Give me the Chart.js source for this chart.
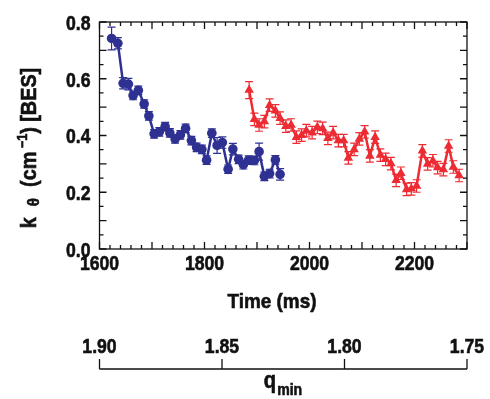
<!DOCTYPE html>
<html>
<head>
<meta charset="utf-8">
<script src="https://cdn.jsdelivr.net/npm/chart.js@4.4.1/dist/chart.umd.min.js"></script>
<style>
  html, body { margin: 0; padding: 0; background: #fff; }
  #wrap { width: 490px; height: 399px; }
</style>
</head>
<body>
<div id="wrap"><canvas id="kChart" width="490" height="399"></canvas></div>
<script>
// values
const blueTime = [1623, 1635, 1645, 1655, 1664, 1674, 1685, 1694, 1704, 1714, 1725, 1734, 1744, 1754, 1764, 1775, 1785,
    1795, 1804, 1814, 1824, 1834, 1845, 1854, 1865, 1874, 1884, 1895, 1904, 1914, 1924, 1935, 1944];
const blueK = [0.742, 0.725, 0.584, 0.581, 0.541, 0.559, 0.511, 0.469, 0.406, 0.413, 0.431, 0.409, 0.388, 0.402, 0.425, 0.382, 0.358,
    0.351, 0.313, 0.408, 0.365, 0.375, 0.281, 0.352, 0.316, 0.297, 0.313, 0.312, 0.343, 0.256, 0.266, 0.314, 0.263];
const blueErr = [0.04, 0.02, 0.02, 0.02, 0.015, 0.015, 0.015, 0.015, 0.015, 0.015, 0.015, 0.015, 0.015, 0.015, 0.015, 0.015, 0.015,
    0.015, 0.015, 0.015, 0.028, 0.02, 0.015, 0.02, 0.015, 0.015, 0.015, 0.015, 0.03, 0.015, 0.015, 0.015, 0.02];

const redTime = [1885, 1895, 1904, 1914, 1924, 1935, 1944, 1955, 1965, 1975, 1985, 1994, 2005, 2015, 2025, 2035, 2045, 2055, 2065, 2074,
    2085, 2095, 2105, 2115, 2125, 2135, 2145, 2155, 2165, 2174, 2185, 2194, 2204, 2215, 2225, 2235, 2244, 2255, 2265, 2274, 2285];
const redK = [0.560, 0.457, 0.437, 0.449, 0.507, 0.487, 0.461, 0.433, 0.437, 0.394, 0.401, 0.417, 0.410, 0.429, 0.425, 0.390, 0.410, 0.382, 0.382, 0.321,
    0.351, 0.388, 0.413, 0.328, 0.394, 0.331, 0.316, 0.301, 0.242, 0.267, 0.210, 0.212, 0.222, 0.346, 0.300, 0.311, 0.287, 0.280, 0.363, 0.289, 0.259];
const redErr = [0.03, 0.022, 0.022, 0.022, 0.022, 0.022, 0.022, 0.022, 0.022, 0.022, 0.022, 0.022, 0.022, 0.022, 0.022, 0.022, 0.022, 0.022, 0.022, 0.022,
    0.022, 0.022, 0.022, 0.022, 0.022, 0.022, 0.022, 0.022, 0.022, 0.022, 0.022, 0.022, 0.022, 0.022, 0.022, 0.022, 0.022, 0.022, 0.022, 0.022, 0.022];

const timeTicks = [1600, 1800, 2000, 2200];
const kTicks = [0.0, 0.2, 0.4, 0.6, 0.8];
const qTicks = [1.90, 1.85, 1.80, 1.75];

const BLUE = 'rgb(46, 49, 146)';
const RED = 'rgb(237, 43, 51)';
const FONT = "'Liberation Sans', Arial, sans-serif";
const SQUEEZE = 0.84;   // the figure uses a condensed bold face

function toPoints(xs, ys) {
    return xs.map((x, i) => ({ x: x, y: ys[i] }));
}

// draw heavy bold text squeezed horizontally
function squeezed(ctx, text, x, y, size, align, sx) {
    ctx.save();
    ctx.translate(x, y);
    ctx.scale(sx || SQUEEZE, 1);
    ctx.font = 'bold ' + size + 'px ' + FONT;
    ctx.textAlign = align;
    ctx.lineWidth = 0.6;
    ctx.strokeStyle = ctx.fillStyle;
    ctx.fillText(text, 0, 0);
    ctx.strokeText(text, 0, 0);
    ctx.restore();
}

// error bars, drawn under the markers
const errorBars = {
    id: 'errorBars',
    beforeDatasetsDraw(chart) {
        const ctx = chart.ctx;
        const xs = chart.scales.x, ys = chart.scales.y;
        const sets = [[blueTime, blueK, blueErr, BLUE], [redTime, redK, redErr, RED]];
        ctx.save();
        ctx.lineWidth = 1.2;
        sets.forEach(([t, k, e, col]) => {
            ctx.strokeStyle = col;
            t.forEach((tv, i) => {
                const px = xs.getPixelForValue(tv);
                const top = ys.getPixelForValue(k[i] + e[i]);
                const bot = ys.getPixelForValue(k[i] - e[i]);
                ctx.beginPath();
                ctx.moveTo(px, top); ctx.lineTo(px, bot);
                ctx.moveTo(px - 4, top); ctx.lineTo(px + 4, top);
                ctx.moveTo(px - 4, bot); ctx.lineTo(px + 4, bot);
                ctx.stroke();
            });
        });
        ctx.restore();
    }
};

// frame with inward ticks, labels, axis titles and the q_min axis
const decorations = {
    id: 'decorations',
    afterDraw(chart) {
        const ctx = chart.ctx;
        const a = chart.chartArea;
        const xs = chart.scales.x, ys = chart.scales.y, qs = chart.scales.q;
        ctx.save();
        ctx.strokeStyle = '#111';
        ctx.lineWidth = 1.3;
        ctx.strokeRect(a.left, a.top, a.right - a.left, a.bottom - a.top);

        ctx.beginPath();
        for (let t = 1600; t <= 2300; t += 20) {
            const px = xs.getPixelForValue(t);
            const len = (t % 100 === 0) ? 7 : 4;
            ctx.moveTo(px, a.bottom); ctx.lineTo(px, a.bottom - len);
            ctx.moveTo(px, a.top); ctx.lineTo(px, a.top + len);
        }
        for (let i = 0; i <= 16; i++) {
            const py = ys.getPixelForValue(i * 0.05);
            const len = (i % 2 === 0) ? 7 : 4;
            ctx.moveTo(a.left, py); ctx.lineTo(a.left + len, py);
            ctx.moveTo(a.right, py); ctx.lineTo(a.right - len, py);
        }
        ctx.stroke();

        ctx.fillStyle = '#111';
        ctx.textBaseline = 'middle';
        kTicks.forEach(v => squeezed(ctx, v.toFixed(1), a.left - 9, ys.getPixelForValue(v) + 2, 21, 'right'));
        timeTicks.forEach(v => squeezed(ctx, String(v), xs.getPixelForValue(v), 264, 21, 'center'));
        squeezed(ctx, 'Time (ms)', 272, 302, 21, 'center', 0.9);

        // q_min axis
        const axisY = 369;
        ctx.strokeStyle = '#111';
        ctx.lineWidth = 1.3;
        ctx.beginPath();
        ctx.moveTo(qs.getPixelForValue(1.90), axisY);
        ctx.lineTo(qs.getPixelForValue(1.75), axisY);
        qTicks.forEach(q => {
            const px = qs.getPixelForValue(q);
            ctx.moveTo(px, axisY); ctx.lineTo(px, axisY - 10);
        });
        ctx.stroke();
        qTicks.forEach(q => squeezed(ctx, q.toFixed(2), qs.getPixelForValue(q), 347, 21, 'center'));

        ctx.textBaseline = 'alphabetic';
        ctx.font = 'bold 23px ' + FONT;
        const qW = ctx.measureText('q').width * 0.88;
        ctx.font = 'bold 16px ' + FONT;
        const mW = ctx.measureText('min').width * 0.88;
        const qx = 283 - (qW + 1 + mW) / 2;
        squeezed(ctx, 'q', qx, 388, 23, 'left', 0.88);
        squeezed(ctx, 'min', qx + qW + 1, 395, 16, 'left', 0.88);

        // rotated y title: k_theta (cm^-1) [BES]
        const parts = [
            ['k', 22, 0], ['  ', 22, 0], ['θ', 17, 3], ['  (cm', 22, 0], [' \u22121', 14, -9], [') [BES]', 22, 0]
        ];
        let total = 0;
        parts.forEach(p => { ctx.font = 'bold ' + p[1] + 'px ' + FONT; total += ctx.measureText(p[0]).width; });
        ctx.translate(36, 148);
        ctx.rotate(-Math.PI / 2);
        ctx.scale(0.9, 1);
        let x = -total / 2;
        ctx.textAlign = 'left';
        ctx.lineWidth = 0.6;
        ctx.strokeStyle = '#111';
        parts.forEach(p => {
            ctx.font = 'bold ' + p[1] + 'px ' + FONT;
            ctx.fillText(p[0], x, p[2]);
            ctx.strokeText(p[0], x, p[2]);
            x += ctx.measureText(p[0]).width;
        });
        ctx.restore();
    }
};

document.addEventListener('DOMContentLoaded', () => {
    const ctx = document.getElementById('kChart').getContext('2d');
    new Chart(ctx, {
        type: 'line',
        data: {
            datasets: [{
                label: 'BES early',
                data: toPoints(blueTime, blueK),
                borderColor: BLUE,
                backgroundColor: BLUE,
                borderWidth: 2.5,
                pointStyle: 'circle',
                pointRadius: 4.8,
                pointBorderWidth: 0,
                tension: 0
            }, {
                label: 'BES late',
                data: toPoints(redTime, redK),
                borderColor: RED,
                backgroundColor: RED,
                borderWidth: 2.5,
                pointStyle: 'triangle',
                pointRadius: 5.5,
                pointBorderWidth: 0,
                tension: 0
            }]
        },
        options: {
            responsive: false,
            animation: false,
            layout: { padding: { top: 22, right: 23, left: 0, bottom: 0 } },
            scales: {
                x: {
                    type: 'linear',
                    min: 1600,
                    max: 2300,
                    afterFit: (scale) => { scale.height = 150; },
                    grid: { display: false, drawTicks: false },
                    border: { display: false },
                    ticks: { display: false }
                },
                y: {
                    min: 0,
                    max: 0.8,
                    afterFit: (scale) => { scale.width = 99.5; },
                    grid: { display: false, drawTicks: false },
                    border: { display: false },
                    ticks: { display: false }
                },
                q: {
                    type: 'linear',
                    position: 'bottom',
                    display: false,
                    min: 1.75,
                    max: 1.90,
                    reverse: true
                }
            },
            plugins: {
                legend: { display: false },
                tooltip: { enabled: false }
            }
        },
        plugins: [errorBars, decorations]
    });
});
</script>
</body>
</html>
